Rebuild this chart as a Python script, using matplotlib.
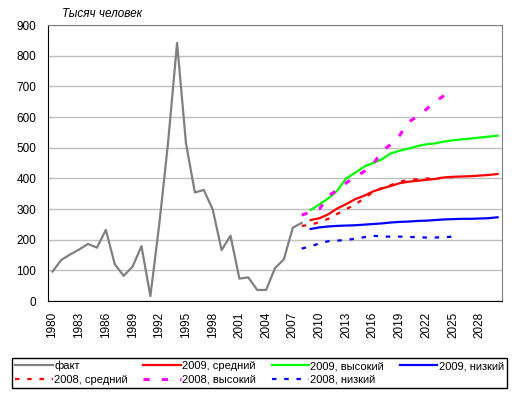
import numpy as np
import matplotlib.pyplot as plt

plt.rcParams['font.family'] = ['Liberation Sans', 'DejaVu Sans']
plt.rcParams['font.size'] = 8

# факт, 1980-2008
years_fact = np.arange(1980, 2009)
fact = [96, 134, 152, 168, 186, 174, 232, 120, 82, 112, 179, 16, 250, 520, 842,
        514, 354, 362, 299, 166, 213, 73, 77, 36, 36, 107, 136, 239, 255]

# прогноз 2009 года, 2009-2030
years_2009 = np.arange(2009, 2031)
mid_2009 = [264, 270, 283, 302, 316, 332, 343, 357, 367, 375, 384, 389, 392, 395,
            398, 403, 405, 406, 407, 409, 411, 414]
high_2009 = [297, 315, 335, 360, 400, 418, 438, 450, 462, 481, 490, 497, 505, 511,
             514, 520, 524, 527, 530, 533, 536, 539]
low_2009 = [235, 240, 243, 245, 246, 247, 249, 251, 253, 256, 258, 259, 261, 262,
            264, 266, 267, 268, 268, 269, 270, 273]

# прогноз 2008 года, 2008-2025
years_2008 = np.arange(2008, 2026)
mid_2008 = [245, 248, 258, 268, 284, 300, 314, 335, 355, 368, 378, 389, 395, 397,
            399, 400, 402, 404]
high_2008 = [280, 290, 300, 342, 363, 385, 405, 422, 444, 490, 510, 540, 583, 603,
             625, 650, 670, 685]
low_2008 = [171, 178, 188, 195, 197, 199, 203, 208, 213, 210, 210, 210, 209, 208,
            207, 207, 208, 210]

xticks = np.arange(1980, 2029, 3)

fig = plt.figure(figsize=(5.16, 3.95), dpi=100)
ax = fig.add_axes([48 / 516, 1 - 301 / 395, 454 / 516, 276 / 395])

l_fact, = ax.plot(years_fact, fact, color='#808080', lw=1.6, label='факт')
l_m9, = ax.plot(years_2009, mid_2009, color='#ff0000', lw=1.6, label='2009, средний')
l_h9, = ax.plot(years_2009, high_2009, color='#00ff00', lw=1.6, label='2009, высокий')
l_l9, = ax.plot(years_2009, low_2009, color='#0000ff', lw=1.6, label='2009, низкий')
l_m8, = ax.plot(years_2008, mid_2008, color='#ff0000', lw=1.6, dashes=(2, 3.5),
                label='2008, средний')
l_h8, = ax.plot(years_2008, high_2008, color='#ff00ff', lw=2.2, dashes=(2, 4),
                label='2008, высокий')
l_l8, = ax.plot(years_2008, low_2008, color='#0000ff', lw=1.6, dashes=(2, 3.5),
                label='2008, низкий')

ax.set_xlim(1979.5, 2030.5)
ax.set_ylim(0, 900)
ax.set_yticks(np.arange(0, 901, 100))
ax.set_xticks(xticks)
ax.set_xticklabels([str(y) for y in xticks], rotation=90)
ax.tick_params(axis='both', length=0, labelsize=8.5)
ax.tick_params(axis='x', pad=8)
ax.tick_params(axis='y', pad=8.5)
ax.grid(axis='y', color='#c0c0c0', lw=1)
ax.set_axisbelow(True)
for side in ['top', 'right']:
    ax.spines[side].set_color('#808080')
for side in ['left', 'bottom']:
    ax.spines[side].set_color('black')

fig.text(62 / 516, 1 - 17 / 395, 'Тысяч человек', style='italic', fontsize=8.5,
         va='baseline')

handles = [l_fact, l_m8, l_m9, l_h8, l_h9, l_l8, l_l9]
leg = fig.legend(handles=handles, labels=[h.get_label() for h in handles],
                 loc='lower left', bbox_to_anchor=(12 / 516, 7 / 395, 495 / 516, 37 / 395),
                 mode='expand', ncol=4, fontsize=8, handlelength=3.4,
                 handletextpad=0.1, borderaxespad=0, borderpad=0.3,
                 labelspacing=0.3, fancybox=False, edgecolor='black', framealpha=1)
leg.get_frame().set_linewidth(1)

fig.savefig('out.png', dpi=100)
